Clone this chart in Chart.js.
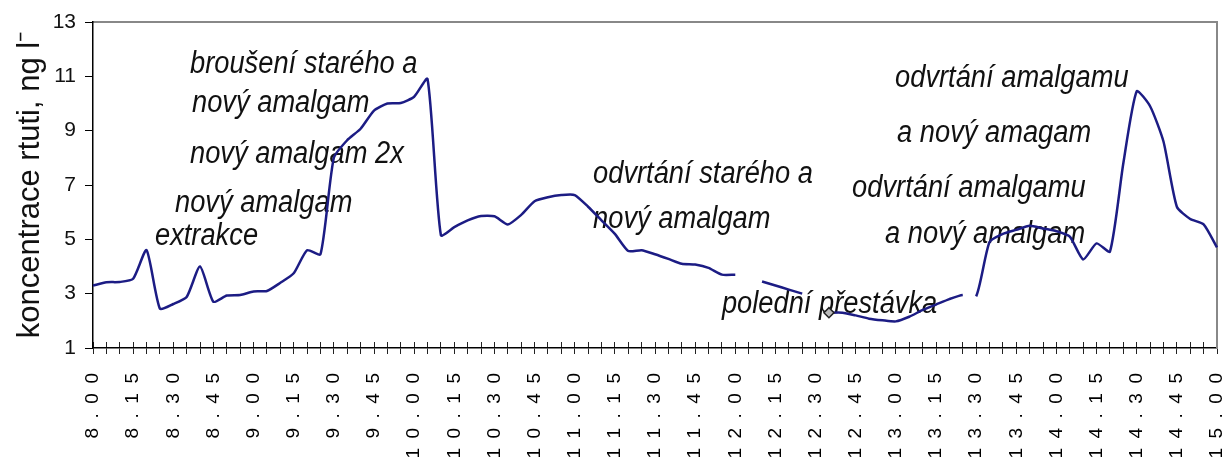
<!DOCTYPE html>
<html>
<head>
<meta charset="utf-8">
<script src="https://cdn.jsdelivr.net/npm/chart.js@4.4.1/dist/chart.umd.min.js"></script>
<style>
  html, body { margin: 0; background: #fff; }
</style>
</head>
<body>
<canvas id="chart" width="1232" height="464"></canvas>
<script>
// measurement times, every 5 minutes
const times = [
  "8.00", "8.05", "8.10", "8.15", "8.20", "8.25", "8.30", "8.35", "8.40", "8.45", "8.50", "8.55",
  "9.00", "9.05", "9.10", "9.15", "9.20", "9.25", "9.30", "9.35", "9.40", "9.45", "9.50", "9.55",
  "10.00", "10.05", "10.10", "10.15", "10.20", "10.25", "10.30", "10.35", "10.40", "10.45", "10.50", "10.55",
  "11.00", "11.05", "11.10", "11.15", "11.20", "11.25", "11.30", "11.35", "11.40", "11.45", "11.50", "11.55",
  "12.00", "12.05", "12.10", "12.15", "12.20", "12.25", "12.30", "12.35", "12.40", "12.45", "12.50", "12.55",
  "13.00", "13.05", "13.10", "13.15", "13.20", "13.25", "13.30", "13.35", "13.40", "13.45", "13.50", "13.55",
  "14.00", "14.05", "14.10", "14.15", "14.20", "14.25", "14.30", "14.35", "14.40", "14.45", "14.50", "14.55",
  "15.00"
];

// mercury concentration, ng/l (null = no reading)
const mercury = [
  3.3, 3.42, 3.43, 3.55, 4.6, 2.45, 2.62, 2.88, 4.0, 2.7, 2.93, 2.95,
  3.08, 3.1, 3.4, 3.75, 4.6, 4.45, 8.0, 8.65, 9.07, 9.74, 10.0, 10.02,
  10.25, 10.9, 5.15, 5.45, 5.7, 5.86, 5.85, 5.55, 5.9, 6.4, 6.55, 6.63,
  6.63, 6.2, 5.7, 5.2, 4.57, 4.6, 4.45, 4.28, 4.1, 4.07, 3.95, 3.7,
  3.7, null, 3.45, 3.3, 3.15, 3.0, null, 2.3, 2.3, 2.2, 2.08, 2.02,
  1.98, 2.15, 2.4, 2.6, 2.8, 2.95, 2.9, 4.9, 5.2, 5.35, 5.5, 5.4,
  5.3, 5.1, 4.26, 4.85, 4.55, 7.8, 10.45, 9.9, 8.6, 6.2, 5.75, 5.55,
  4.7
];

// line is interrupted after these readings
const breakAfter = [65];
// readings drawn with a marker
const marked = [55];

const yTicks = [1, 3, 5, 7, 9, 11, 13];

// annotation texts, anchored at (time index, concentration)
const notes = [
  { text: "broušení starého a", at: 7.25, level: 11.12 },
  { text: "nový amalgam", at: 7.4, level: 9.69 },
  { text: "nový amalgam 2x", at: 7.25, level: 7.81 },
  { text: "nový amalgam", at: 6.13, level: 6.0 },
  { text: "extrakce", at: 4.63, level: 4.79 },
  { text: "odvrtání starého a", at: 37.37, level: 7.07 },
  { text: "nový amalgam", at: 37.37, level: 5.42 },
  { text: "polední přestávka", at: 47.0, level: 2.29 },
  { text: "odvrtání amalgamu", at: 59.94, level: 10.61 },
  { text: "a nový amagam", at: 60.09, level: 8.58 },
  { text: "odvrtání amalgamu", at: 56.73, level: 6.56 },
  { text: "a nový amalgam", at: 59.19, level: 4.86 }
];

const FONT = '"Liberation Sans", Arial, sans-serif';
const spaced = (s) => s.split("").join("\u2002");

const noteText = {
  id: "noteText",
  beforeDatasetsDraw(chart) {
    const { ctx, scales } = chart;
    ctx.save();
    ctx.fillStyle = "#111";
    ctx.font = "italic 31px " + FONT;
    ctx.textAlign = "left";
    ctx.textBaseline = "alphabetic";
    notes.forEach((n) => {
      ctx.save();
      ctx.translate(scales.x.getPixelForValue(n.at), scales.y.getPixelForValue(n.level));
      ctx.scale(0.88, 1);
      ctx.fillText(n.text, 0, 0);
      ctx.restore();
    });
    ctx.restore();
  },
};

const config = {
  type: "line",
  data: {
    labels: times,
    datasets: [
      {
        data: mercury,
        borderColor: "#1c1c84",
        borderWidth: 2.5,
        tension: 0.2,
        spanGaps: false,
        pointStyle: "rectRot",
        pointRadius: (c) => (marked.includes(c.dataIndex) ? 5 : 0),
        pointHoverRadius: 0,
        pointBackgroundColor: "#bbb",
        pointBorderColor: "#222",
        pointBorderWidth: 1.5,
        segment: {
          borderColor: (c) => (breakAfter.includes(c.p0DataIndex) ? "rgba(0,0,0,0)" : undefined),
        },
        xAxisID: "x",
        yAxisID: "y",
      },
    ],
  },
  options: {
    responsive: false,
    animation: false,
    layout: { padding: { top: 22, right: 15, left: 0, bottom: 0 } },
    plugins: { legend: { display: false }, tooltip: { enabled: false } },
    scales: {
      x: {
        type: "category",
        position: "bottom",
        ticks: {
          autoSkip: false,
          minRotation: 90,
          maxRotation: 90,
          padding: 19,
          color: "#000",
          font: { family: FONT, size: 19 },
          callback: (v, i) => (/\.(00|15|30|45)$/.test(times[i]) ? spaced(times[i]) : ""),
        },
        grid: { drawOnChartArea: false, tickLength: 6, color: "#222" },
        border: { color: "#000", width: 1.5 },
        afterFit: (s) => {
          s.height = 116;
          s.paddingLeft = 0;
          s.paddingRight = 0;
        },
      },
      xIn: {
        type: "category",
        position: { y: 1 },
        ticks: { display: false },
        grid: { drawOnChartArea: false, tickLength: -6, color: "#222" },
        border: { display: false },
        afterFit: (s) => {
          s.paddingLeft = 0;
          s.paddingRight = 0;
        },
      },
      xTop: {
        type: "category",
        position: "top",
        ticks: { display: false },
        grid: { display: false, drawTicks: false },
        border: { color: "#888", width: 2 },
        afterFit: (s) => {
          s.height = 0;
          s.paddingLeft = 0;
          s.paddingRight = 0;
        },
      },
      y: {
        type: "linear",
        position: "left",
        min: 1,
        max: 13,
        afterBuildTicks: (s) => { s.ticks = yTicks.map((v) => ({ value: v })); },
        ticks: { color: "#111", padding: 9, font: { family: FONT, size: 21 } },
        grid: { drawOnChartArea: false, tickLength: 8, color: "#000" },
        border: { color: "#000", width: 1.5 },
        title: {
          display: true,
          text: "koncentrace rtuti, ng l\u207B",
          color: "#111",
          font: { family: FONT, size: 31 },
          padding: { top: 12, bottom: 0 },
        },
        afterFit: (s) => { s.width = 93; },
      },
      yRight: {
        type: "linear",
        position: "right",
        min: 1,
        max: 13,
        ticks: { display: false },
        grid: { display: false, drawTicks: false },
        border: { color: "#888", width: 2 },
        afterFit: (s) => { s.width = 0; },
      },
    },
  },
  plugins: [noteText],
};

new Chart(document.getElementById("chart"), config);
</script>
</body>
</html>
